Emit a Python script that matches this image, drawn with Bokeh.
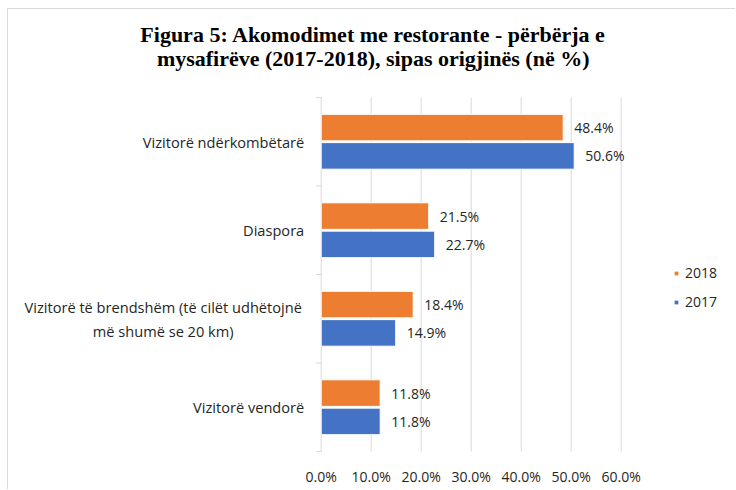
from bokeh.plotting import figure
from bokeh.models import ColumnDataSource, Range1d, Legend, LegendItem
from bokeh.core.properties import value
from bokeh.embed import file_html
from bokeh.resources import INLINE

categories = ["Vizitorë vendorë",
              "Vizitorë të brendshëm",
              "Diaspora",
              "Vizitorë ndërkombëtarë"]
cat_lines = [["Vizitorë vendorë"],
             ["Vizitorë të brendshëm (të cilët udhëtojnë", "më shumë se 20 km)"],
             ["Diaspora"],
             ["Vizitorë ndërkombëtarë"]]
v2018 = [11.8, 18.4, 21.5, 48.4]
v2017 = [11.8, 14.9, 22.7, 50.6]
x_ticks = [0, 10, 20, 30, 40, 50, 60]
title_lines = ["Figura 5: Akomodimet me restorante - përbërja e",
               "mysafirëve (2017-2018), sipas origjinës (në %)"]

FONT = "Open Sans"
FS = "14px"
FS_CAT = "14.6px"
TXT = "#262626"
GRID = "#d9d9d9"
ORANGE = "#ED7D31"
BLUE = "#4472C4"

# ---- layout (pixels) ----
W, H = 728, 481            # canvas size
AX_X = 312.7               # canvas x of 0 %
UNIT = 5.0                 # px per percentage point
TOP = 88.0                 # canvas y of top of category area
BAND = 88.5                # px per category band
n = len(categories)
BOTTOM = TOP + n * BAND

x_range = Range1d(-AX_X / UNIT, (W - AX_X) / UNIT)
y_range = Range1d(-(H - BOTTOM) / BAND, n + TOP / BAND)

p = figure(width=W, height=H, output_backend="svg", toolbar_location=None,
           x_range=x_range, y_range=y_range,
           x_axis_location=None, y_axis_location=None,
           min_border=0)
p.styles = {"margin-left": "7px", "margin-top": "8px",
            "border-left": "1px solid #d9d9d9", "border-top": "1px solid #d9d9d9"}
p.outline_line_color = None
p.grid.visible = False

pos = list(range(n))
DOD = 0.16
src = ColumnDataSource(dict(
    y18=[i + 0.5 + DOD for i in pos], y17=[i + 0.5 - DOD for i in pos],
    v2018=v2018, v2017=v2017,
    l2018=[f"{v:.1f}%" for v in v2018],
    l2017=[f"{v:.1f}%" for v in v2017],
))

# gridlines + category axis line + boundary ticks
p.segment(x0=x_ticks, x1=x_ticks, y0=[0] * len(x_ticks), y1=[n] * len(x_ticks),
          line_color=GRID, line_width=1)
p.segment(x0=[-5 / UNIT] * (n + 1), x1=[0] * (n + 1),
          y0=list(range(n + 1)), y1=list(range(n + 1)),
          line_color=GRID, line_width=1)

r18 = p.hbar(y="y18", right="v2018", left=0, height=0.3, source=src,
             fill_color=ORANGE, line_color="white", line_width=1)
r17 = p.hbar(y="y17", right="v2017", left=0, height=0.3, source=src,
             fill_color=BLUE, line_color="white", line_width=1)

txt = dict(text_font=value(FONT), text_font_size=FS, text_color=TXT)

p.text(x="v2018", y="y18", text="l2018", source=src, x_offset=11,
       text_align="left", text_baseline="middle", **txt)
p.text(x="v2017", y="y17", text="l2017", source=src, x_offset=11,
       text_align="left", text_baseline="middle", **txt)

# x tick labels
p.text(x=x_ticks, y=[0] * len(x_ticks), text=[f"{t:.1f}%" for t in x_ticks],
       y_offset=25, text_align="center", text_baseline="middle", **txt)

# category labels
cat_txt = dict(text_font=value(FONT), text_font_size=FS_CAT, text_color=TXT)
for i, lines in enumerate(cat_lines):
    if len(lines) == 1:
        p.text(x=[0], y=[i + 0.5], text=lines, x_offset=-17,
               text_align="right", text_baseline="middle", **cat_txt)
    else:
        m = len(lines)
        for j, line in enumerate(lines):
            p.text(x=[0], y=[i + 0.5], text=[line], x_offset=-158,
                   y_offset=(j - (m - 1) / 2) * 24,
                   text_align="center", text_baseline="middle", **cat_txt)

# title
for j, line in enumerate(title_lines):
    p.text(x=[0], y=[n], text=[line], x_offset=52, y_offset=-63 + j * 23.5,
           text_align="center", text_baseline="alphabetic",
           text_font=value("Liberation Serif"), text_font_size="22px",
           text_font_style="bold", text_color="black")

legend = Legend(items=[LegendItem(label="2018", renderers=[r18]),
                       LegendItem(label="2017", renderers=[r17])],
                location=(665, 179), padding=0, margin=0, spacing=10,
                glyph_width=6, glyph_height=6, label_height=14, label_standoff=6,
                label_text_font=FONT, label_text_font_size=FS,
                label_text_color=TXT, border_line_color=None,
                background_fill_alpha=0)
p.add_layout(legend, "center")

open("out.html", "w").write(file_html(p, INLINE))
